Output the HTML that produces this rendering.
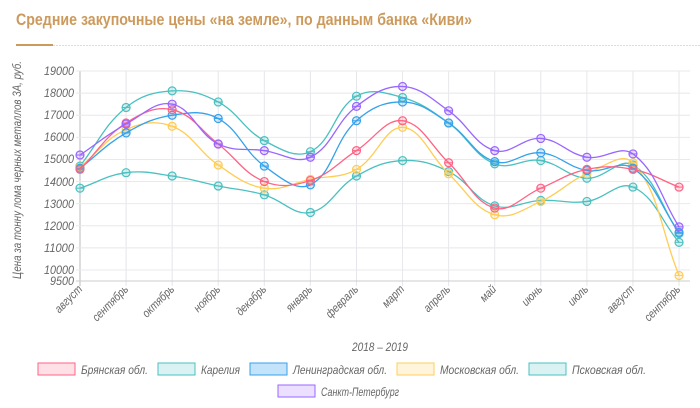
<!DOCTYPE html>
<html><head><meta charset="utf-8"><style>
html,body{margin:0;padding:0;background:#fff;width:700px;height:408px;overflow:hidden}
svg{display:block;font-family:"Liberation Sans",sans-serif}
.yl{font-size:12px;fill:#666;font-style:italic;text-anchor:end}
.xl{font-size:12px;fill:#666;font-style:italic;text-anchor:end}
.lg{font-size:12px;fill:#666;font-style:italic}
</style></head><body>
<svg id="s" width="700" height="408" viewBox="0 0 700 408">
<text x="16" y="25" font-size="17" font-weight="bold" fill="#cc9a5c" textLength="456" lengthAdjust="spacingAndGlyphs">Средние закупочные цены «на земле», по данным банка «Киви»</text>
<line x1="53" y1="45.5" x2="700" y2="45.5" stroke="#ddd" stroke-dasharray="2,1"/>
<line x1="16" y1="45" x2="53" y2="45" stroke="#cc9a5c" stroke-width="2"/>
<g id="grid"></g>
<g class="yl">
<text x="74" y="75" textLength="30" lengthAdjust="spacingAndGlyphs">19000</text><text x="74" y="97" textLength="30" lengthAdjust="spacingAndGlyphs">18000</text><text x="74" y="119" textLength="30" lengthAdjust="spacingAndGlyphs">17000</text><text x="74" y="141" textLength="30" lengthAdjust="spacingAndGlyphs">16000</text><text x="74" y="163" textLength="30" lengthAdjust="spacingAndGlyphs">15000</text><text x="74" y="186" textLength="30" lengthAdjust="spacingAndGlyphs">14000</text><text x="74" y="208" textLength="30" lengthAdjust="spacingAndGlyphs">13000</text><text x="74" y="230" textLength="30" lengthAdjust="spacingAndGlyphs">12000</text><text x="74" y="252" textLength="30" lengthAdjust="spacingAndGlyphs">11000</text><text x="74" y="274" textLength="30" lengthAdjust="spacingAndGlyphs">10000</text><text x="74" y="285" textLength="24" lengthAdjust="spacingAndGlyphs">9500</text>
</g>
<text class="yl" transform="translate(21,170) rotate(-90)" style="text-anchor:middle" textLength="218" lengthAdjust="spacingAndGlyphs">Цена за тонну лома черных металлов 3А, руб.</text>
<g class="xl">
<text transform="translate(83,290) rotate(-45) scale(0.82,1)">август</text>
<text transform="translate(129,290) rotate(-45) scale(0.82,1)">сентябрь</text>
<text transform="translate(175,290) rotate(-45) scale(0.82,1)">октябрь</text>
<text transform="translate(221,290) rotate(-45) scale(0.82,1)">ноябрь</text>
<text transform="translate(267,290) rotate(-45) scale(0.82,1)">декабрь</text>
<text transform="translate(313,290) rotate(-45) scale(0.82,1)">январь</text>
<text transform="translate(359,290) rotate(-45) scale(0.82,1)">февраль</text>
<text transform="translate(405,290) rotate(-45) scale(0.82,1)">март</text>
<text transform="translate(451,290) rotate(-45) scale(0.82,1)">апрель</text>
<text transform="translate(497,290) rotate(-45) scale(0.82,1)">май</text>
<text transform="translate(543,290) rotate(-45) scale(0.82,1)">июнь</text>
<text transform="translate(589,290) rotate(-45) scale(0.82,1)">июль</text>
<text transform="translate(635,290) rotate(-45) scale(0.82,1)">август</text>
<text transform="translate(681,290) rotate(-45) scale(0.82,1)">сентябрь</text>
</g>
<text class="lg" x="380" y="351" text-anchor="middle" textLength="56" lengthAdjust="spacingAndGlyphs">2018 – 2019</text>
<g class="lg">
<rect x="38" y="363" width="37" height="12" fill="rgba(255,99,132,0.2)" stroke="#ff6384"/><text x="81" y="374" textLength="67" lengthAdjust="spacingAndGlyphs">Брянская обл.</text>
<rect x="158" y="363" width="37" height="12" fill="rgba(75,192,192,0.2)" stroke="#4bc0c0"/><text x="201" y="374" textLength="39" lengthAdjust="spacingAndGlyphs">Карелия</text>
<rect x="250" y="363" width="37" height="12" fill="rgba(54,162,235,0.3)" stroke="#36a2eb"/><text x="293" y="374" textLength="94" lengthAdjust="spacingAndGlyphs">Ленинградская обл.</text>
<rect x="397" y="363" width="37" height="12" fill="rgba(255,205,86,0.2)" stroke="#ffcd56"/><text x="440" y="374" textLength="79" lengthAdjust="spacingAndGlyphs">Московская обл.</text>
<rect x="529" y="363" width="37" height="12" fill="rgba(75,192,192,0.2)" stroke="#4bc0c0"/><text x="572" y="374" textLength="74" lengthAdjust="spacingAndGlyphs">Псковская обл.</text>
<rect x="278" y="385" width="37" height="12" fill="rgba(153,102,255,0.2)" stroke="#9966ff"/><text x="321" y="396" textLength="78" lengthAdjust="spacingAndGlyphs">Санкт-Петербург</text>
</g>
<g id="ser"></g>
</svg>
<script>
var NS="http://www.w3.org/2000/svg";
function el(p,t,a){var e=document.createElementNS(NS,t);for(var k in a)e.setAttribute(k,a[k]);p.appendChild(e);return e;}
var X=function(i){return 80+i*46.08;}, Y=function(v){return 71+(19000-v)*0.02211;};
var g=document.getElementById('grid');
for(var i=0;i<14;i++)el(g,'line',{x1:X(i),x2:X(i),y1:71,y2:286,stroke:i?'#e6e6ec':'#bbb','stroke-width':1});
for(var v=19000;v>=10000;v-=1000)el(g,'line',{x1:76,x2:690,y1:Y(v),y2:Y(v),stroke:'#e8e8ee'});
el(g,'line',{x1:76,x2:690,y1:Y(9500),y2:Y(9500),stroke:'#ccc'});
var S=[
['#4bc0c0',[13700,14400,14250,13800,13400,12600,14250,14950,14450,12900,13150,13100,13750,11250]],
['#4bc0c0',[14700,17350,18100,17600,15850,15350,17860,17800,16650,14800,14950,14150,14750,11650]],
['#ffcd56',[14650,16350,16500,14750,13700,14100,14550,16450,14350,12500,13100,14350,14850,9750]],
['#36a2eb',[14600,16200,17000,16850,14700,13850,16750,17600,16650,14900,15300,14500,14600,11700]],
['#ff6384',[14550,16650,17250,15700,14000,14050,15400,16750,14850,12800,13700,14550,14550,13750]],
['#9966ff',[15200,16600,17500,15700,15400,15100,17400,18300,17200,15400,15950,15100,15250,11950]]];
var sg=document.getElementById('ser');
S.forEach(function(s){
 var p=s[1].map(function(v,i){return [X(i),Y(v)];}),t=0.4,d='M'+p[0][0]+','+p[0][1];
 var cp=p.map(function(c,i){var a=p[Math.max(i-1,0)],b=p[Math.min(i+1,p.length-1)];
  var d01=Math.hypot(c[0]-a[0],c[1]-a[1]),d12=Math.hypot(b[0]-c[0],b[1]-c[1]);
  var fa=t*d01/(d01+d12||1),fb=t*d12/(d01+d12||1);
  return [[c[0]-fa*(b[0]-a[0]),c[1]-fa*(b[1]-a[1])],[c[0]+fb*(b[0]-a[0]),c[1]+fb*(b[1]-a[1])]];});
 for(var i=1;i<p.length;i++)d+=' C'+cp[i-1][1]+' '+cp[i][0]+' '+p[i];
 el(sg,'path',{d:d,fill:'none',stroke:s[0],'stroke-width':1.3});
 p.forEach(function(c){el(sg,'circle',{cx:c[0],cy:c[1],r:4,fill:s[0],'fill-opacity':0.2,stroke:s[0],'stroke-width':1.2});
  el(sg,'line',{x1:c[0]-4,x2:c[0]+4,y1:c[1],y2:c[1],stroke:s[0],'stroke-width':1});});
});
</script>
</body></html>
